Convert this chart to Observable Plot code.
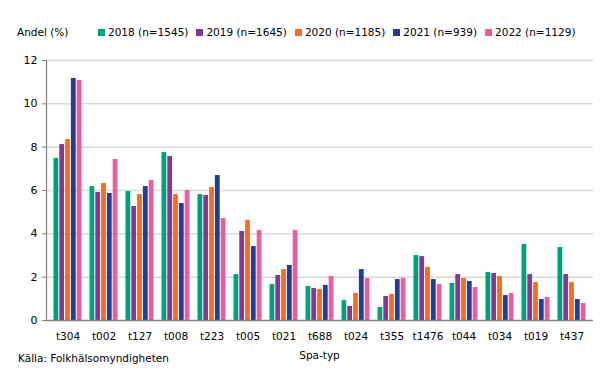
<!DOCTYPE html>
<html>
<head>
<meta charset="utf-8">
<script src="https://cdn.jsdelivr.net/npm/d3@7"></script>
<script src="https://cdn.jsdelivr.net/npm/@observablehq/plot@0.6"></script>
<style>
  html, body { margin: 0; padding: 0; background: #fff; }
  body { font-family: "DejaVu Sans", Verdana, sans-serif; color: #000; }
  #wrap { position: relative; width: 605px; height: 378px; overflow: hidden; }
  #header { position: absolute; left: 0; top: 0; width: 605px; height: 45px; font-size: 10.5px; }
  #ylab { position: absolute; left: 17px; top: 25px; line-height: 14px; }
  #legend { position: absolute; left: 98px; top: 25px; display: flex; gap: 8px; line-height: 14px; }
  .item { display: flex; align-items: center; white-space: nowrap; }
  .sw { width: 7px; height: 7px; margin-right: 3px; display: inline-block; }
  #chart { position: absolute; left: 0; top: 45px; }
  #xlab { position: absolute; left: 0; width: 605px; padding-left: 46px; box-sizing: border-box; padding-right: 12px; text-align: center; top: 348px; font-size: 10.5px; line-height: 14px; }
  #src { position: absolute; left: 18px; top: 351px; font-size: 10.5px; line-height: 14px; }
</style>
</head>
<body>
<div id="wrap">
  <div id="header"><div id="ylab">Andel (%)</div><div id="legend"></div></div>
  <div id="chart"></div>
  <div id="xlab">Spa-typ</div>
  <div id="src">Källa: Folkhälsomyndigheten</div>
</div>
<script>
const types = ["t304","t002","t127","t008","t223","t005","t021","t688","t024","t355","t1476","t044","t034","t019","t437"];
const years = ["2018 (n=1545)","2019 (n=1645)","2020 (n=1185)","2021 (n=939)","2022 (n=1129)"];
const colors = ["#00a07f","#823a90","#ef7023","#233e8c","#e4619f"];
const v2018 = [7.48, 6.18, 5.95, 7.75, 5.81, 2.12, 1.66, 1.57, 0.92, 0.60, 3.00, 1.71, 2.22, 3.51, 3.37];
const v2019 = [8.12, 5.91, 5.26, 7.57, 5.77, 4.11, 2.08, 1.48, 0.65, 1.11, 2.95, 2.12, 2.17, 2.12, 2.12];
const v2020 = [8.35, 6.32, 5.81, 5.81, 6.14, 4.61, 2.35, 1.43, 1.25, 1.20, 2.45, 1.94, 2.03, 1.75, 1.75];
const v2021 = [11.17, 5.86, 6.18, 5.40, 6.69, 3.41, 2.54, 1.62, 2.35, 1.89, 1.89, 1.80, 1.15, 0.97, 0.97];
const v2022 = [11.08, 7.43, 6.46, 6.00, 4.71, 4.15, 4.15, 2.03, 1.94, 1.94, 1.66, 1.52, 1.25, 1.06, 0.78];
const yTicks = [0, 2, 4, 6, 8, 10, 12];

const series = [v2018, v2019, v2020, v2021, v2022];
const data = types.flatMap((t, i) => years.map((y, j) => ({type: t, year: y, value: series[j][i]})));

const legend = document.getElementById("legend");
years.forEach((y, j) => {
  const it = document.createElement("div");
  it.className = "item";
  it.innerHTML = `<span class="sw" style="background:${colors[j]}"></span><span>${y}</span>`;
  legend.appendChild(it);
});

const base = {
  width: 605,
  height: 333,
  marginTop: 15,
  marginBottom: 58,
  marginLeft: 46,
  marginRight: 12,
  style: {fontFamily: "DejaVu Sans, Verdana, sans-serif", fontSize: "10.5px", color: "#000", background: "#fff"},
  x: {domain: types, paddingInner: 0.2, paddingOuter: 0.14, label: null},
  y: {domain: [0, 12], label: null},
  color: {domain: years, range: colors}
};

// measure the band width of the x scale
const probe = Plot.plot({...base, marks: [Plot.barY(data, {x: "type", y: "value"})]});
const bw = probe.scale("x").bandwidth;
const slot = bw / years.length;

const chart = Plot.plot({
  ...base,
  marks: [
    Plot.gridY({ticks: yTicks.filter(d => d > 0), stroke: "#d9d9d9", strokeOpacity: 1, strokeWidth: 1.5}),
    ...years.map((yr, j) => Plot.barY(data.filter(d => d.year === yr), {
      x: "type", y: "value", fill: "year",
      insetLeft: j * slot + 0.5,
      insetRight: bw - (j + 1) * slot + 0.5
    })),
    Plot.ruleY([0], {stroke: "#808080", strokeWidth: 1.5}),
    Plot.frame({anchor: "left", stroke: "#808080", strokeWidth: 1.2}),
    Plot.axisY({ticks: yTicks, tickSize: 4, tickPadding: 5, stroke: "#808080", tickFormat: d => d, label: null, fontSize: 11}),
    Plot.axisX({tickSize: 0, tickPadding: 12, label: null})
  ]
});
document.getElementById("chart").appendChild(chart);
</script>
</body>
</html>
